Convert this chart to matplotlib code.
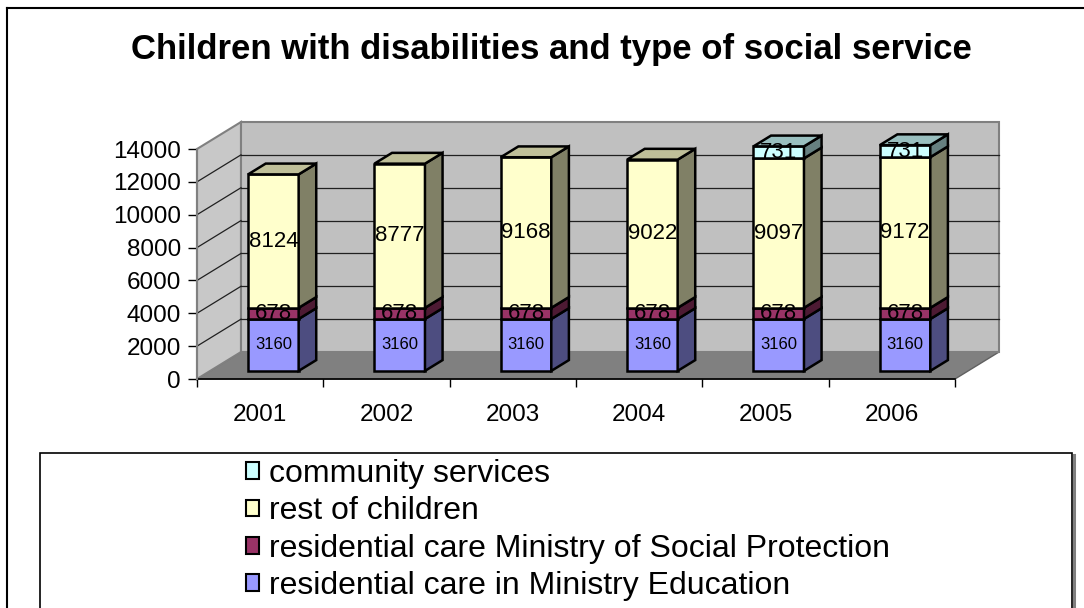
import matplotlib
matplotlib.use("Agg")
import matplotlib.pyplot as plt
from matplotlib.patches import Polygon, Rectangle, Patch
from matplotlib.lines import Line2D
from matplotlib.colors import to_rgb

# ---- data ----
years = ["2001", "2002", "2003", "2004", "2005", "2006"]
edu_residential = [3160, 3160, 3160, 3160, 3160, 3160]
social_residential = [678, 678, 678, 678, 678, 678]
rest_of_children = [8124, 8777, 9168, 9022, 9097, 9172]
community_services = [0, 0, 0, 0, 731, 731]

series_names = [
    "residential care in Ministry Education",
    "residential care Ministry of Social Protection",
    "rest of children",
    "community services",
]
series_values = [edu_residential, social_residential, rest_of_children, community_services]
front_colors = ["#9999FF", "#993366", "#FFFFCC", "#CCFFFF"]
label_sizes = [12, 16, 16, 16]
y_ticks = [0, 2000, 4000, 6000, 8000, 10000, 12000, 14000]

plt.rcParams["font.family"] = ["Liberation Sans", "DejaVu Sans"]

W, H = 1084, 608
fig = plt.figure(figsize=(W / 100, H / 100), dpi=100)
fig.patch.set_facecolor("white")


def shade(c, k):
    r, g, b = to_rgb(c)
    return (r * k, g * k, b * k)


# plot area (front plane of the 3-D box)
ax = fig.add_axes([197 / W, (H - 379) / H, 758 / W, 230 / H])
n = len(years)
x0, x1 = -0.5, n - 0.5
ymax = y_ticks[-1]
ax.set_xlim(x0, x1)
ax.set_ylim(0, ymax)
ax.patch.set_visible(False)
for s in ax.spines.values():
    s.set_visible(False)

# depth of the 3-D box in data units
DX = 44 / 758 * n
DY = 27 / 230 * ymax

wall_c = "#C0C0C0"
edge_c = "#808080"

# floor
ax.add_patch(Polygon([(x0, 0), (x1, 0), (x1 + DX, DY), (x0 + DX, DY)],
                     closed=True, facecolor="#808080", edgecolor="#606060",
                     lw=1.0, clip_on=False, zorder=0))
# left wall
ax.add_patch(Polygon([(x0, 0), (x0 + DX, DY), (x0 + DX, ymax + DY), (x0, ymax)],
                     closed=True, facecolor="#C8C8C8", edgecolor=edge_c,
                     lw=1.5, clip_on=False, zorder=0))
# back wall
ax.add_patch(Polygon([(x0 + DX, DY), (x1 + DX, DY), (x1 + DX, ymax + DY), (x0 + DX, ymax + DY)],
                     closed=True, facecolor=wall_c, edgecolor=edge_c,
                     lw=1.5, clip_on=False, zorder=0))

# gridlines on back and left walls
for v in y_ticks[1:-1]:
    ax.plot([x0 + DX, x1 + DX], [v + DY, v + DY], color="#202020", lw=0.9,
            clip_on=False, zorder=1)
    ax.plot([x0, x0 + DX], [v, v + DY], color="#202020", lw=0.9,
            clip_on=False, zorder=1)

# front floor edge and left front edge
ax.plot([x0, x1], [0, 0], color="black", lw=1.2, clip_on=False, zorder=2)
ax.plot([x0, x0], [0, ymax], color=edge_c, lw=1.5, clip_on=False, zorder=2)

# bars: front faces via ax.bar, sides and tops as parallelograms
bw = 0.4
f0, f1 = 0.3, 0.7            # bar spans this fraction of the box depth
ddx, ddy = (f1 - f0) * DX, (f1 - f0) * DY
xs = [i + f0 * DX for i in range(n)]
base_off = f0 * DY

bottoms = [0.0] * n
for si, (vals, col) in enumerate(zip(series_values, front_colors)):
    for i in range(n):
        v = vals[i]
        if v <= 0:
            continue
        b = bottoms[i] + base_off
        t = b + v
        xl = xs[i] - bw / 2
        xr = xs[i] + bw / 2
        z = 3 + i * 0.1 + si * 0.01
        ax.bar(xs[i], v, bottom=b, width=bw, color=col, edgecolor="black",
               lw=1.8, zorder=z, clip_on=False)
        ax.add_patch(Polygon([(xr, b), (xr + ddx, b + ddy), (xr + ddx, t + ddy), (xr, t)],
                             closed=True, facecolor=shade(col, 0.5), edgecolor="black",
                             lw=1.8, clip_on=False, zorder=z))
        # top face only on the uppermost segment
        is_top = all(series_values[k][i] <= 0 for k in range(si + 1, len(series_values)))
        if is_top:
            ax.add_patch(Polygon([(xl, t), (xr, t), (xr + ddx, t + ddy), (xl + ddx, t + ddy)],
                                 closed=True, facecolor=shade(col, 0.75), edgecolor="black",
                                 lw=1.8, clip_on=False, zorder=z))
        ax.text(xs[i], b + v / 2, f"{v}", ha="center", va="center",
                fontsize=label_sizes[si], color="black", zorder=10,
                clip_on=False)
        bottoms[i] += v

# axes ticks and labels
ax.set_yticks(y_ticks)
ax.set_yticklabels([str(v) for v in y_ticks], fontsize=17.5)
ax.tick_params(axis="y", length=6.5, width=1.0, color="black", pad=5)
ax.set_xticks(range(n))
ax.set_xticklabels(years, fontsize=17.5)
ax.set_xticks([i - 0.5 for i in range(n + 1)], minor=True)
ax.tick_params(axis="x", which="major", length=0, pad=18)
ax.tick_params(axis="x", which="minor", length=6, width=1.0, color="black")

# title
fig.text(551 / W, 1 - 49 / H, "Children with disabilities and type of social service",
         ha="center", va="center", fontsize=25, fontweight="bold")

# outer frame
fig.add_artist(Line2D([7 / W, 7 / W], [0, 1 - 8 / H], transform=fig.transFigure,
                      color="black", lw=1.5))
fig.add_artist(Line2D([7 / W, 1], [1 - 8 / H, 1 - 8 / H], transform=fig.transFigure,
                      color="black", lw=1.5))

# legend box
fig.add_artist(Rectangle((40 / W, -0.05), (1072 - 40) / W, (608 - 453) / H + 0.05,
                         transform=fig.transFigure, facecolor="white",
                         edgecolor="black", lw=1.2, zorder=0))
fig.add_artist(Line2D([1074 / W, 1074 / W], [0, 1 - 455 / H], transform=fig.transFigure,
                      color="#808080", lw=2.2))

handles = [Patch(facecolor=front_colors[k], edgecolor="black", lw=1.5)
           for k in (3, 2, 1, 0)]
labels = [series_names[k] for k in (3, 2, 1, 0)]
fig.legend(handles, labels, loc="upper left", bbox_to_anchor=(246 / W, 1 - 459 / H),
           frameon=False, fontsize=23, handlelength=0.42, handleheight=0.42,
           handletextpad=0.3, labelspacing=0.23, borderaxespad=0, borderpad=0)

fig.savefig("out.png", dpi=100)
